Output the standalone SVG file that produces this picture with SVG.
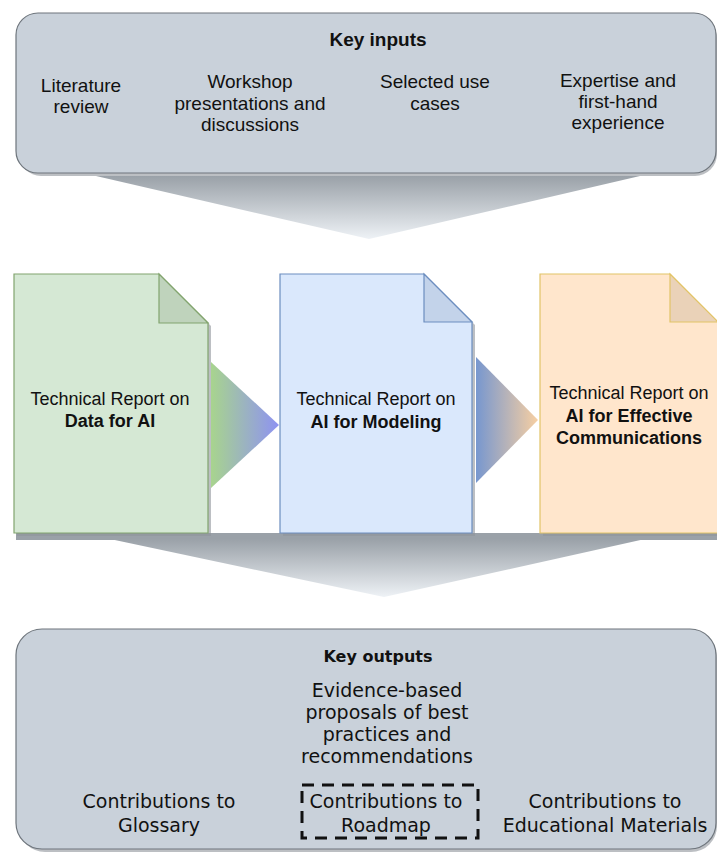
<svg xmlns="http://www.w3.org/2000/svg" width="717" height="852" viewBox="0 0 717 852">
<defs>
<linearGradient id="gDown" x1="0" y1="0" x2="0" y2="1"><stop offset="0" stop-color="#9aa1a8"/><stop offset="1" stop-color="#eef2f6"/></linearGradient>
<linearGradient id="gT1" x1="0" y1="0" x2="1" y2="0"><stop offset="0" stop-color="#a8d48e"/><stop offset="1" stop-color="#8e92f2"/></linearGradient>
<linearGradient id="gT2" x1="0" y1="0" x2="1" y2="0"><stop offset="0" stop-color="#7797cf"/><stop offset="1" stop-color="#f7cfa2"/></linearGradient>
</defs>
<style>
.box{fill:#c9d1da;stroke:#6e757c;stroke-width:1.2}
.shadow{fill:#8f959b;opacity:0.6}
.t{font-family:"Liberation Sans",Arial,sans-serif;font-size:18px;fill:#111;text-anchor:middle}
.ti{font-size:19px}
.b{font-weight:bold}
.o{font-family:"DejaVu Sans",Verdana,sans-serif;font-size:19px;fill:#111;text-anchor:middle}
.ob{font-family:"DejaVu Sans",Verdana,sans-serif;font-size:16px;font-weight:bold;fill:#111;text-anchor:middle}
</style>
<rect width="717" height="852" fill="#ffffff"/>

<g id="connectors">
<path d="M96 176 L640 176 L369 239 Z" fill="url(#gDown)"/>
<path d="M211 362 L279 425 L211 488 Z" fill="url(#gT1)"/>
<path d="M476 357 L538 420 L476 483 Z" fill="url(#gT2)"/>
<rect x="16" y="533" width="701" height="7" fill="#9aa1a8"/>
<path d="M110 539 L645 539 L384 597 Z" fill="url(#gDown)"/>
</g>

<g id="key-inputs">
<rect x="19" y="16" width="698" height="160" rx="22" class="shadow"/>
<rect x="16" y="13" width="700" height="160" rx="22" class="box"/>
<text x="378" y="46" class="t ti b">Key inputs</text>
<text x="81" y="92" class="t ti">Literature</text>
<text x="81" y="113" class="t ti">review</text>
<text x="250" y="88" class="t ti">Workshop</text>
<text x="250" y="110" class="t ti">presentations and</text>
<text x="250" y="131" class="t ti">discussions</text>
<text x="435" y="88" class="t ti">Selected use</text>
<text x="435" y="110" class="t ti">cases</text>
<text x="618" y="87" class="t ti">Expertise and</text>
<text x="618" y="108" class="t ti">first-hand</text>
<text x="618" y="129" class="t ti">experience</text>
</g>

<g id="doc-data">
<path d="M17 277 L162 277 L211 326 L211 536 L17 536 Z" class="shadow"/>
<path d="M14 274 L159 274 L208 323 L208 533 L14 533 Z" fill="#d5e8d4" stroke="#82a46e" stroke-width="1.2"/>
<path d="M159 274 L159 323 L208 323 Z" fill="#bfd3bc" stroke="#82a46e" stroke-width="1.2"/>
<text x="110" y="405" class="t">Technical Report on</text>
<text x="110" y="427" class="t b">Data for AI</text>
</g>

<g id="doc-modeling">
<path d="M283 277 L427 277 L475 325 L475 536 L283 536 Z" class="shadow"/>
<path d="M280 274 L424 274 L472 322 L472 533 L280 533 Z" fill="#dae8fc" stroke="#6c8ebf" stroke-width="1.2"/>
<path d="M424 274 L424 322 L472 322 Z" fill="#c3d3ea" stroke="#6c8ebf" stroke-width="1.2"/>
<text x="376" y="405" class="t">Technical Report on</text>
<text x="376" y="428" class="t b">AI for Modeling</text>
</g>

<g id="doc-communications">
<path d="M543 277 L673 277 L721 325 L721 536 L543 536 Z" class="shadow"/>
<path d="M540 274 L670 274 L718 322 L718 533 L540 533 Z" fill="#ffe6cc" stroke="#e2c467" stroke-width="1.2"/>
<path d="M670 274 L670 322 L718 322 Z" fill="#ead2b8" stroke="#e2c467" stroke-width="1.2"/>
<text x="629" y="399" class="t">Technical Report on</text>
<text x="629" y="422" class="t b">AI for Effective</text>
<text x="629" y="444" class="t b">Communications</text>
</g>

<g id="key-outputs">
<rect x="19" y="632" width="698" height="220" rx="26" class="shadow"/>
<rect x="16" y="629" width="700" height="220" rx="26" class="box"/>
<text x="378" y="662" class="ob">Key outputs</text>
<text x="387" y="697" class="o">Evidence-based</text>
<text x="387" y="719" class="o">proposals of best</text>
<text x="387" y="741" class="o">practices and</text>
<text x="387" y="763" class="o">recommendations</text>
<text x="159" y="808" class="o">Contributions to</text>
<text x="159" y="832" class="o">Glossary</text>
<text x="605" y="808" class="o">Contributions to</text>
<text x="605" y="832" class="o">Educational Materials</text>
</g>

<g id="roadmap">
<rect x="302" y="785" width="176" height="53" fill="none" stroke="#111" stroke-width="3" stroke-dasharray="12 8"/>
<text x="386" y="808" class="o">Contributions to</text>
<text x="386" y="832" class="o">Roadmap</text>
</g>
</svg>
